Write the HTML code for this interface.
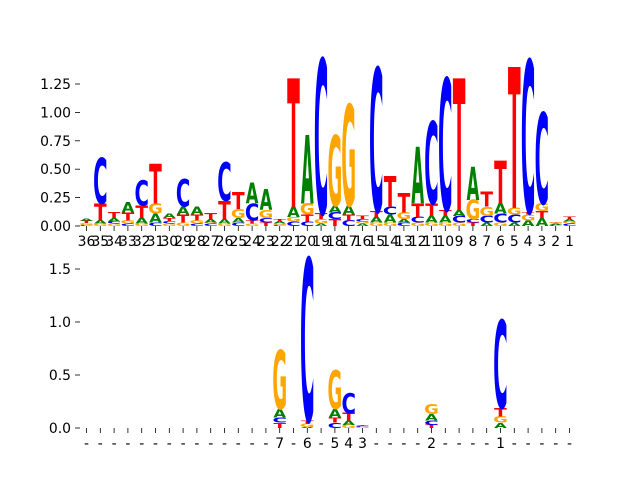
<!DOCTYPE html>
<html><head><meta charset="utf-8"><style>
html,body{margin:0;padding:0;background:#fff;}
svg text{font-family:"DejaVu Sans","Liberation Sans",sans-serif;}
</style></head><body>
<svg id="chart" width="640" height="480" viewBox="0 0 640 480" xmlns="http://www.w3.org/2000/svg">
<g id="top"></g>
<g id="bot"></g>
</svg>
<script>
// order per position: bottom -> top stacking, [letter, height]
const topLabels = ["36","35","34","33","32","31","30","29","28","27","26","25","24","23","22","21","20","19","18","17","16","15","14","13","12","11","10","9","8","7","6","5","4","3","2","1"];
const topStacks = [
 [["C",.01],["G",.015],["T",.02],["A",.02]],
 [["G",.02],["A",.03],["T",.15],["C",.4]],
 [["G",.02],["C",.02],["A",.03],["T",.05]],
 [["C",.02],["G",.03],["T",.07],["A",.09]],
 [["G",.02],["A",.05],["T",.11],["C",.22]],
 [["C",.03],["A",.08],["G",.09],["T",.35]],
 [["G",.02],["C",.02],["T",.03],["A",.04]],
 [["G",.03],["T",.07],["A",.07],["C",.24]],
 [["C",.02],["G",.03],["T",.05],["A",.07]],
 [["C",.02],["G",.01],["A",.03],["T",.05]],
 [["G",.02],["A",.04],["T",.16],["C",.34]],
 [["C",.03],["A",.04],["G",.08],["T",.15]],
 [["G",.02],["T",.03],["C",.15],["A",.18]],
 [["T",.03],["C",.04],["G",.07],["A",.18]],
 [["C",.01],["G",.01],["A",.02],["T",.02]],
 [["C",.04],["G",.04],["A",.09],["T",1.13]],
 [["C",.04],["T",.06],["G",.1],["A",.6]],
 [["A",.02],["G",.04],["T",.05],["C",1.36]],
 [["T",.06],["C",.06],["A",.06],["G",.62]],
 [["C",.05],["T",.05],["A",.08],["G",.89]],
 [["A",.02],["G",.02],["C",.02],["T",.03]],
 [["G",.03],["A",.05],["T",.05],["C",1.26]],
 [["G",.03],["A",.07],["C",.07],["T",.27]],
 [["C",.03],["A",.03],["G",.06],["T",.17]],
 [["G",.03],["C",.05],["T",.12],["A",.5]],
 [["G",.03],["A",.06],["T",.11],["C",.72]],
 [["G",.03],["A",.06],["T",.05],["C",1.16]],
 [["G",.03],["C",.06],["A",.05],["T",1.16]],
 [["T",.03],["C",.03],["G",.17],["A",.29]],
 [["A",.03],["C",.06],["G",.08],["T",.13]],
 [["G",.03],["C",.08],["A",.09],["T",.38]],
 [["A",.03],["C",.07],["G",.06],["T",1.24]],
 [["A",.05],["G",.05],["T",.02],["C",1.34]],
 [["A",.07],["T",.06],["G",.07],["C",.8]],
 [["C",.01],["A",.01],["G",.01],["T",.005]],
 [["C",.02],["G",.02],["A",.02],["T",.02]]
];
const topTicks = [0,0.25,0.5,0.75,1.0,1.25];
const topTickLabels = ["0.00","0.25","0.50","0.75","1.00","1.25"];

const botLabels = ["-","-","-","-","-","-","-","-","-","-","-","-","-","-","7","-","6","-","5","4","3","-","-","-","-","2","-","-","-","-","1","-","-","-","-","-"];
const botStacks = {
 14: [["T",.05],["C",.05],["A",.08],["G",.55]],
 16: [["A",.01],["G",.03],["T",.03],["C",1.53]],
 18: [["C",.05],["T",.05],["A",.08],["G",.36]],
 19: [["G",.03],["A",.04],["T",.07],["C",.19]],
 20: [["G",.01],["C",.01],["A",.005],["T",.005]],
 25: [["T",.03],["C",.04],["A",.06],["G",.09]],
 30: [["A",.05],["G",.06],["T",.08],["C",.83]]
};
const botTicks = [0,0.5,1.0,1.5];
const botTickLabels = ["0.0","0.5","1.0","1.5"];

const NS="http://www.w3.org/2000/svg";
const colors={A:"#008000",C:"#0000ff",G:"#ffa500",T:"#ff0000"};
const inkW={A:0.77,C:0.64,G:0.70,T:0.68};
const CAP=72.9, FS=100;
const x0=86.5, dx=13.8, LW=12.6;
function xPos(i){return x0+dx*i;}
function mk(tag,attrs,parent){const e=document.createElementNS(NS,tag);for(const k in attrs)e.setAttribute(k,attrs[k]);parent.appendChild(e);return e;}

function panel(g, base, ppu, stacks, labels, ticks, tickLabels, nameP){
  const yPos=v=>base-v*ppu;
  // y ticks
  ticks.forEach((t,k)=>{
    const y=yPos(t);
    const ln=mk("line",{x1:75,x2:80,y1:y,y2:y,stroke:"#000","stroke-width":0.8},g);
    
    
    const tx=mk("text",{x:71,y:y+5,"text-anchor":"end","font-size":"13.9px",fill:"#000"},g);
    tx.textContent=tickLabels[k];
    
    
  });
  // x ticks and labels
  labels.forEach((lab,i)=>{
    const x=xPos(i);
    const ln=mk("line",{x1:x,x2:x,y1:base,y2:base+5,stroke:"#000","stroke-width":0.8},g);
    
    
    const tx=mk("text",{x:x,y:base+20,"text-anchor":"middle","font-size":"13.9px",fill:"#000"},g);
    tx.textContent=lab;
    
    
  });
  // letters
  const draw=(st,i)=>{
    let cum=0;
    st.forEach(([L,h])=>{
      const yb=yPos(cum); cum+=h;
      const hp=h*ppu; if(hp<=0)return;
      const sx=LW/(inkW[L]*FS), sy=hp/(CAP);
      const t=mk("text",{x:0,y:0,"text-anchor":"middle","font-size":FS,"font-weight":"bold",fill:colors[L],
        transform:`translate(${xPos(i)},${yb}) scale(${sx},${sy})`},g);
      t.textContent=L;
      
      
    });
  };
  if(Array.isArray(stacks)) stacks.forEach(draw);
  else Object.keys(stacks).forEach(k=>draw(stacks[k],+k));
}
panel(document.getElementById('top'),226,113.6,topStacks,topLabels,topTicks,topTickLabels,'top');
panel(document.getElementById('bot'),428,106,botStacks,botLabels,botTicks,botTickLabels,'bottom');
</script>
</body></html>
